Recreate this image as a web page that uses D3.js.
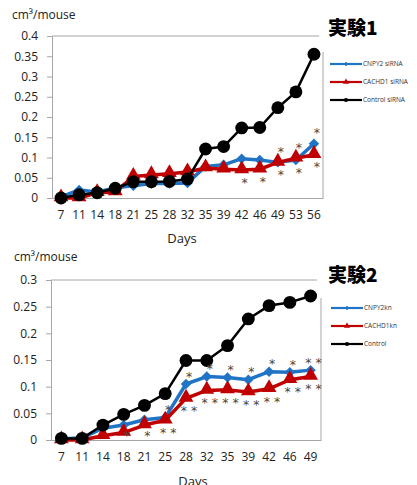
<!DOCTYPE html>
<html>
<head>
<meta charset="utf-8">
<script src="https://cdn.jsdelivr.net/npm/d3@7"></script>
<style>
  body { margin: 0; background: #fff; }
  svg { display: block; font-family: "Open Sans", "Noto Sans", sans-serif; }
</style>
</head>
<body>
<div id="chart"></div>
<script>
// ---- data, chart 1 (実験1) ----
const days1 = [7, 11, 14, 18, 21, 25, 28, 32, 35, 39, 42, 46, 49, 53, 56];
const cnpy2Sirna   = [0.003, 0.02, 0.015, 0.025, 0.03, 0.036, 0.036, 0.037, 0.078, 0.082, 0.097, 0.094, 0.088, 0.094, 0.134];
const cachd1Sirna  = [0, 0, 0.013, 0.015, 0.053, 0.057, 0.06, 0.064, 0.074, 0.071, 0.069, 0.071, 0.088, 0.098, 0.107];
const controlSirna = [0, 0.008, 0.013, 0.024, 0.04, 0.04, 0.041, 0.047, 0.121, 0.127, 0.173, 0.174, 0.223, 0.262, 0.355];
const yTicks1 = [0, 0.05, 0.1, 0.15, 0.2, 0.25, 0.3, 0.35, 0.4];
const names1 = ["CNPY2 siRNA", "CACHD1 siRNA", "Control siRNA"];
const stars1 = [
  {day: 49, text: "*", side: "above"}, {day: 53, text: "*", side: "above"}, {day: 56, text: "*", side: "above"},
  {day: 42, text: "*", side: "below"}, {day: 46, text: "*", side: "below"}, {day: 49, text: "*", side: "below"},
  {day: 53, text: "*", side: "below"}, {day: 56, text: "*", side: "below"}
];

// ---- data, chart 2 (実験2) ----
const days2 = [7, 11, 14, 18, 21, 25, 28, 32, 35, 39, 42, 46, 49];
const cnpy2Kn   = [0.002, 0.004, 0.022, 0.028, 0.038, 0.042, 0.105, 0.119, 0.117, 0.113, 0.128, 0.127, 0.131];
const cachd1Kn  = [0, 0, 0.008, 0.014, 0.028, 0.037, 0.078, 0.093, 0.094, 0.09, 0.096, 0.113, 0.119];
const controlKn = [0.003, 0.003, 0.028, 0.048, 0.065, 0.087, 0.149, 0.149, 0.177, 0.227, 0.252, 0.258, 0.27];
const yTicks2 = [0, 0.05, 0.1, 0.15, 0.2, 0.25, 0.3];
const names2 = ["CNPY2kn", "CACHD1kn", "Control"];
const stars2 = [
  {day: 25, text: "*", side: "above"}, {day: 28, text: "*", side: "above"}, {day: 32, text: "*", side: "above"},
  {day: 35, text: "*", side: "above"}, {day: 39, text: "*", side: "above"}, {day: 42, text: "*", side: "above"},
  {day: 46, text: "*", side: "above"}, {day: 49, text: "* *", side: "above"},
  {day: 18, text: "*", side: "below"}, {day: 21, text: "*", side: "below"}, {day: 25, text: "* *", side: "below"},
  {day: 28, text: "* *", side: "below"}, {day: 32, text: "* *", side: "below"}, {day: 35, text: "* *", side: "below"},
  {day: 39, text: "* *", side: "below"}, {day: 42, text: "* *", side: "below"}, {day: 46, text: "* *", side: "below"},
  {day: 49, text: "* *", side: "below"}
];

const W = 417, H = 485;
const blue = "#1f74c6", red = "#c00000", black = "#000";
const frameColor = "#a6a6a6";
const starColor = "#4f4538";

const svg = d3.select("#chart").append("svg")
  .attr("width", W)
  .attr("height", H);

function drawChart(opt) {
  let x = d3.scaleBand()
    .domain(opt.days)
    .range([opt.left, opt.right]);

  let y = d3.scaleLinear()
    .domain([0, d3.max(opt.yTicks)])
    .range([opt.bottom, opt.top]);

  let g = svg.append("g");

  // frame (plot area)
  g.append("line").attr("x1", opt.left).attr("x2", opt.right - 4)
    .attr("y1", opt.top).attr("y2", opt.top)
    .attr("stroke", frameColor);
  g.append("line").attr("x1", opt.right).attr("x2", opt.right)
    .attr("y1", opt.top + opt.rightGap).attr("y2", opt.bottom)
    .attr("stroke", frameColor);

  // y axis
  let yAxis = g.append("g")
    .attr("transform", "translate(" + opt.left + ",0)")
    .call(d3.axisLeft(y).tickValues(opt.yTicks).tickSize(5).tickPadding(9)
      .tickFormat(d => d === 0 ? "0" : String(+d.toFixed(2))));
  yAxis.select(".domain").attr("stroke", frameColor);
  yAxis.selectAll(".tick line").attr("stroke", frameColor);
  yAxis.selectAll("text").attr("fill", "#222").style("font-size", "12px")
    .style("font-family", "Open Sans");

  // x axis
  let xAxis = g.append("g")
    .attr("transform", "translate(0," + opt.bottom + ")")
    .call(d3.axisBottom(x).tickSize(0).tickPadding(12));
  xAxis.select(".domain").attr("stroke", frameColor);
  xAxis.selectAll("text").attr("fill", "#222").style("font-size", "12px")
    .style("font-family", "Open Sans");

  let cx = d => x(d) + x.bandwidth() / 2;

  let series = [
    {name: opt.names[0], values: opt.series[0], color: blue, width: 3.5, shape: "diamond"},
    {name: opt.names[1], values: opt.series[1], color: red, width: 3.5, shape: "triangle"},
    {name: opt.names[2], values: opt.series[2], color: black, width: 2.5, shape: "circle"}
  ];

  let line = d3.line()
    .x((d, i) => cx(opt.days[i]))
    .y(d => y(d));

  let symbolOf = {
    diamond: d3.symbol().type(d3.symbolDiamond2).size(70),
    triangle: d3.symbol().type(d3.symbolTriangle).size(95),
    circle: d3.symbol().type(d3.symbolCircle).size(130)
  };
  let legendSymbol = {
    diamond: d3.symbol().type(d3.symbolDiamond2).size(12),
    triangle: d3.symbol().type(d3.symbolTriangle).size(16),
    circle: d3.symbol().type(d3.symbolCircle).size(14)
  };

  series.forEach(s => {
    g.append("path")
      .datum(s.values)
      .attr("fill", "none")
      .attr("stroke", s.color)
      .attr("stroke-width", s.width)
      .attr("stroke-linejoin", "round")
      .attr("d", line);

    g.append("g")
      .selectAll("path")
      .data(s.values)
      .enter().append("path")
      .attr("transform", (d, i) => "translate(" + cx(opt.days[i]) + "," + (y(d) + (s.shape === "triangle" ? -1 : 0)) + ")")
      .attr("d", symbolOf[s.shape])
      .attr("fill", s.color);
  });

  // significance marks (above the upper / below the lower treated series)
  g.append("g")
    .selectAll("text")
    .data(opt.stars)
    .enter().append("text")
    .attr("x", d => cx(d.day) + 3)
    .attr("y", d => {
      let i = opt.days.indexOf(d.day);
      let vals = series.map(s => s.values[i]).slice(0, 2);
      if (d.side === "above") return y(d3.max(vals)) - opt.aboveGap;
      return Math.min(y(d3.min(vals)) + opt.belowGap, opt.bottom - 8);
    })
    .attr("text-anchor", "middle")
    .attr("dy", "0.62em")
    .attr("fill", starColor)
    .style("font-family", "DejaVu Sans")
    .style("font-size", "12.5px")
    .text(d => d.text);

  // axis titles
  g.append("text")
    .attr("x", opt.unitX)
    .attr("y", opt.unitY)
    .attr("fill", "#222")
    .style("font-size", "12px")
    .style("font-family", "Open Sans")
    .text("cm³/mouse");

  g.append("text")
    .attr("x", opt.daysX)
    .attr("y", opt.daysY)
    .attr("text-anchor", "middle")
    .attr("fill", "#222")
    .style("font-size", "13px")
    .style("font-family", "Open Sans")
    .text("Days");

  // title
  g.append("text")
    .attr("x", opt.titleX)
    .attr("y", opt.titleY)
    .attr("fill", "#000")
    .style("font-family", "'Noto Sans CJK JP'")
    .style("font-weight", "900")
    .style("font-size", "19px")
    .text(opt.title);

  // legend
  let legend = g.append("g")
    .selectAll("g")
    .data(series)
    .enter().append("g")
    .attr("transform", (d, i) => "translate(" + opt.legendX + "," + (opt.legendY + i * 18) + ")");

  legend.append("line")
    .attr("x1", 0).attr("x2", 32)
    .attr("stroke", d => d.color)
    .attr("stroke-width", 2.2);
  legend.append("path")
    .attr("transform", "translate(16,0)")
    .attr("d", d => legendSymbol[d.shape]())
    .attr("fill", d => d.color);
  legend.append("text")
    .attr("x", 33)
    .attr("dy", "0.35em")
    .attr("fill", "#333")
    .style("font-size", "6.5px")
    .style("font-family", "Open Sans")
    .text(d => d.name);
}

drawChart({
  days: days1, series: [cnpy2Sirna, cachd1Sirna, controlSirna], yTicks: yTicks1,
  names: names1, stars: stars1, title: "実験1",
  left: 52, right: 323, top: 36, bottom: 198, rightGap: 16,
  aboveGap: 14, belowGap: 9,
  unitX: 12, unitY: 19, daysX: 182, daysY: 243,
  titleX: 328, titleY: 35, legendX: 330, legendY: 64
});

drawChart({
  days: days2, series: [cnpy2Kn, cachd1Kn, controlKn], yTicks: yTicks2,
  names: names2, stars: stars2, title: "実験2",
  left: 51, right: 321, top: 280, bottom: 440, rightGap: 18,
  aboveGap: 11, belowGap: 9,
  unitX: 14, unitY: 261, daysX: 193, daysY: 486,
  titleX: 328, titleY: 282, legendX: 331, legendY: 308
});
</script>
</body>
</html>
